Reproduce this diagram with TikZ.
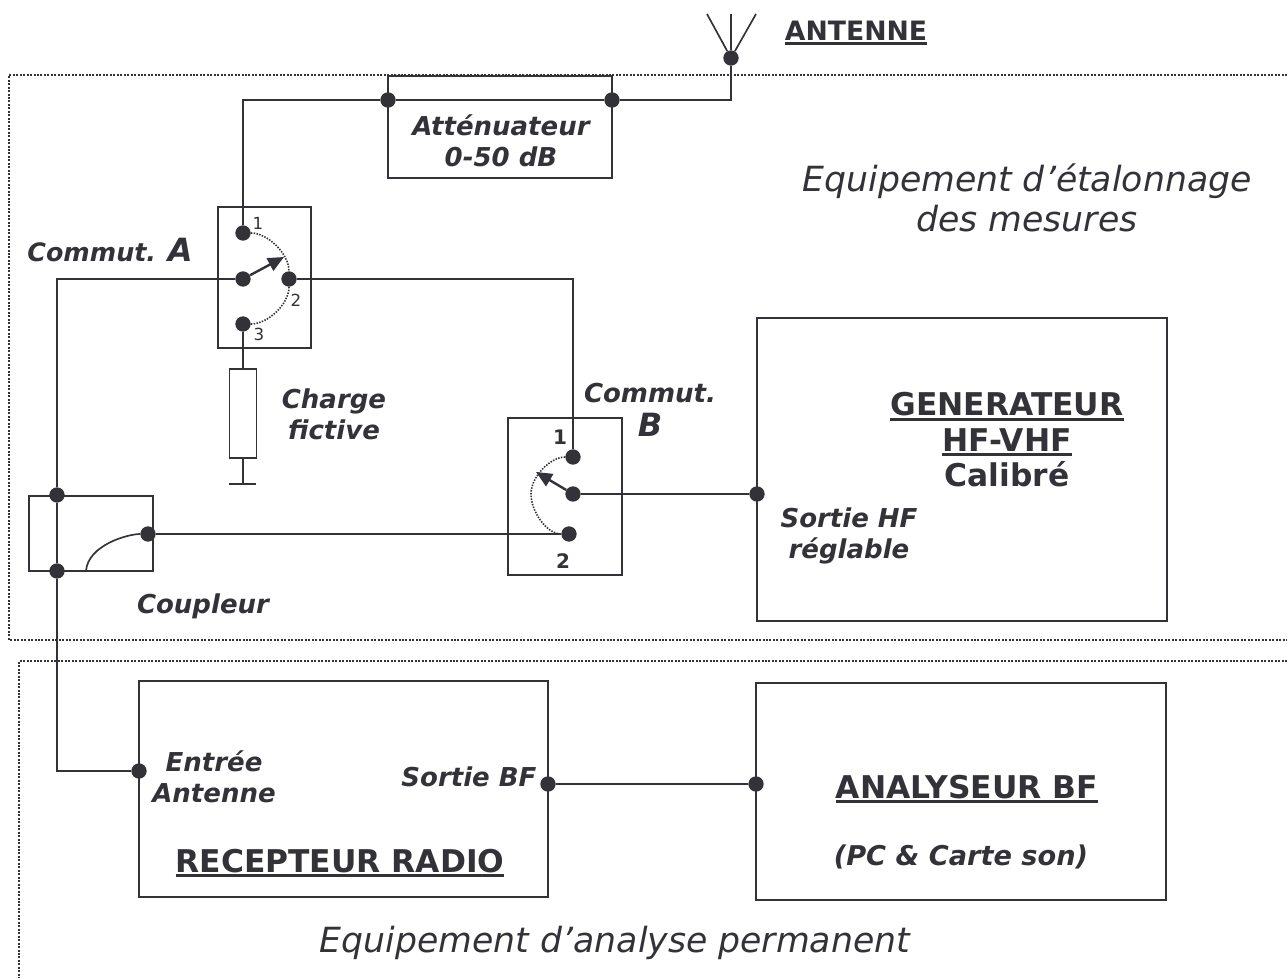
\documentclass[tikz,border=0pt]{standalone}
\usepackage{xcolor}
\usepackage{fontspec}
\setmainfont{DejaVu Sans}
\usepackage{tikz}
\usetikzlibrary{arrows.meta}
\definecolor{inkgray}{RGB}{50,50,56}
\newcommand{\ulined}[1]{\setbox0\hbox{#1}\rlap{\vrule width\wd0 height -1.2pt depth 3.7pt}\box0}
\tikzset{
  wire/.style={draw=inkgray, line width=1.25pt},
  boxed/.style={draw=inkgray, line width=1.7pt},
  frameline/.style={draw=inkgray, line width=1.5pt, dash pattern=on 1.5pt off 1.1pt},
  arcline/.style={draw=inkgray, line width=1.2pt, dash pattern=on 1.1pt off 1pt},
  pin/.style={circle, fill=inkgray, inner sep=0pt, minimum size=11.5pt},
  lever/.style={draw=inkgray, line width=1.8pt, -{Triangle[length=12pt,width=10.5pt]}},
  tagtext/.style={text=inkgray, align=center, inner sep=0pt, font=\fontsize{19.5}{23}\selectfont\bfseries\itshape},
  headtext/.style={text=inkgray, align=center, inner sep=0pt, font=\fontsize{23.5}{26.6}\selectfont\bfseries},
  roomtext/.style={text=inkgray, align=center, inner sep=0pt, font=\fontsize{26}{30}\selectfont\itshape},
  smalltext/.style={text=inkgray, inner sep=0pt, font=\fontsize{12.5}{14}\selectfont},
  boxnum/.style={text=inkgray, inner sep=0pt, font=\fontsize{15}{16}\selectfont\bfseries}
}

\begin{document}
\begin{tikzpicture}[x=0.75pt, y=-0.75pt]
  \useasboundingbox (0,0) rectangle (1287,978);

  % frames
  \draw[frameline] (1287,75) -- (9,75) -- (9,640) -- (1287,640);
  \draw[frameline] (1287,661) -- (19,661) -- (19,978);

  % boxes
  \draw[boxed] (388,76) rectangle (612,178);
  \draw[boxed] (218,207) rectangle (311,348);
  \draw[boxed] (508,418) rectangle (622,575);
  \draw[boxed] (29,496) rectangle (153,571);
  \draw[boxed] (757,318) rectangle (1167,621);
  \draw[boxed] (139,681) rectangle (548,897);
  \draw[boxed] (756,683) rectangle (1166,900);
  \node[draw=inkgray, line width=1.2pt, minimum width=20.25pt, minimum height=66.75pt, inner sep=0pt] (charge) at (243,413.5) {};

  % pins
  \node[pin] (antpin) at (731,58) {};
  \node[pin] (attleft) at (388,100) {};
  \node[pin] (attright) at (612,100) {};
  \node[pin] (aone) at (243,233) {};
  \node[pin] (amid) at (243,279) {};
  \node[pin] (atwo) at (289,279) {};
  \node[pin] (athree) at (243,324) {};
  \node[pin] (bone) at (573,457) {};
  \node[pin] (bmid) at (573,494) {};
  \node[pin] (btwo) at (569,534) {};
  \node[pin] (gen) at (757,494) {};
  \node[pin] (coupup) at (57,495) {};
  \node[pin] (coupdown) at (57,571) {};
  \node[pin] (coupout) at (148,534) {};
  \node[pin] (recin) at (139,771) {};
  \node[pin] (recout) at (548,784) {};
  \node[pin] (ana) at (756,784) {};

  % free ends
  \coordinate (anttipl) at (707,14);
  \coordinate (anttipm) at (731,14);
  \coordinate (anttipr) at (756,14);
  \coordinate (antfoot) at (731,100);
  \coordinate (attcorner) at (243,100);
  \coordinate (acorner) at (57,279);
  \coordinate (bcorner) at (573,279);
  \coordinate (reccorner) at (57,771);
  \coordinate (gndtop) at (243,484);
  \coordinate (gndl) at (229,484);
  \coordinate (gndr) at (256,484);
  \coordinate (atip) at (284,257);
  \coordinate (btip) at (536,472);
  \coordinate (couparc) at (86,571);

  % wires
  \draw[wire] (antpin) -- (anttipl);
  \draw[wire] (antpin) -- (anttipm);
  \draw[wire] (antpin) -- (anttipr);
  \draw[wire] (antpin) -- (antfoot) -- (attright);
  \draw[wire] (attleft) -- (attright);
  \draw[wire] (attleft) -- (attcorner) -- (aone);
  \draw[wire] (amid) -- (acorner) -- (coupup);
  \draw[wire] (atwo) -- (bcorner) -- (bone);
  \draw[wire] (athree) -- (charge);
  \draw[wire] (charge) -- (gndtop);
  \draw[wire] (gndl) -- (gndr);
  \draw[wire] (coupup) -- (coupdown);
  \draw[wire] (coupdown) -- (reccorner) -- (recin);
  \draw[wire] (coupout) -- (btwo);
  \draw[wire] (bmid) -- (gen);
  \draw[wire] (recout) -- (ana);
  \draw[wire] (couparc) .. controls +(2,-26) and +(-20,0) .. (coupout);

  % switches
  \draw[arcline] (aone) .. controls +(25,0) and +(0,-25) .. (atwo);
  \draw[arcline] (atwo) .. controls +(0,25) and +(25,0) .. (athree);
  \draw[arcline] (bone) .. controls +(-22,0) and +(0,-18) .. (531,494) .. controls +(0,18) and +(-22,0) .. (btwo);
  \draw[lever] (amid) -- (atip);
  \draw[lever] (bmid) -- (btip);

  % labels
  \node[headtext, font=\fontsize{20}{24}\selectfont\bfseries, anchor=base] (antlabel) at (856,40) {\ulined{ANTENNE}};
  \node[tagtext] (attlabel) at (501,141) {Atténuateur\\0-50 dB};
  \node[roomtext] (etalabel) at (1027,198) {Equipement d’étalonnage\\des mesures};
  \node[tagtext, font=\fontsize{19}{23}\selectfont\bfseries\itshape] (alabel) at (110,250) {Commut. {\fontsize{24}{24}\selectfont A}};
  \node[tagtext] (chargelabel) at (334,414.5) {Charge\\fictive};
  \node[tagtext] (blabel) at (650,410) {Commut.\\[2pt]{\fontsize{24}{24}\selectfont B}};
  \node[headtext] (genlabel) at (1007,440) {\ulined{GENERATEUR}\\\ulined{HF-VHF}\\Calibré};
  \node[tagtext] (hflabel) at (849,536) {Sortie HF\\réglable};
  \node[tagtext] (couplabel) at (203,606) {Coupleur};
  \node[tagtext] (inlabel) at (214,777) {Entrée\\Antenne};
  \node[tagtext] (bflabel) at (469,777) {Sortie BF};
  \node[headtext, anchor=base] (reclabel) at (340,872) {\ulined{RECEPTEUR RADIO}};
  \node[headtext, anchor=base] (analabel) at (967,798) {\ulined{ANALYSEUR BF}};
  \node[tagtext, font=\fontsize{20.4}{23}\selectfont\bfseries\itshape] (pclabel) at (961,857) {(PC \& Carte son)};
  \node[roomtext] (permlabel) at (615,943) {Equipement d’analyse permanent};
  \node[smalltext] (numaone) at (258,223) {1};
  \node[smalltext] (numatwo) at (296,300) {2};
  \node[smalltext] (numathree) at (259,334) {3};
  \node[boxnum] (numbone) at (560,437) {1};
  \node[boxnum] (numbtwo) at (563,561) {2};
\end{tikzpicture}
\end{document}
